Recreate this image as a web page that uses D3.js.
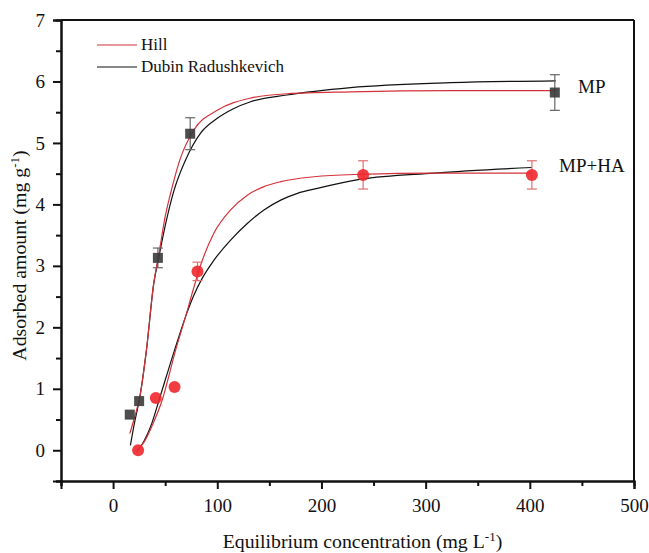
<!DOCTYPE html>
<html>
<head>
<meta charset="utf-8">
<script src="https://cdn.jsdelivr.net/npm/d3@7"></script>
<style>
  body { margin: 0; background: #fff; }
  svg text { font-family: "Liberation Serif", Tinos, "Times New Roman", "DejaVu Serif", "Noto Serif", serif; fill: #111; }
</style>
</head>
<body>
<div id="chart"></div>
<script>
// measured points (equilibrium concentration, adsorbed amount)
var mpX = [16, 25, 43, 74, 424];
var mpY = [0.58, 0.80, 3.13, 5.15, 5.82];
var mpErr = [0, 0, 0.16, 0.26, 0.29];

var haX = [24, 41, 59, 81, 240, 402];
var haY = [0.0, 0.85, 1.03, 2.91, 4.48, 4.48];
var haErr = [0, 0, 0, 0.15, 0.23, 0.23];

// fitted curves
var hillMP = [[16,0.27],[20,0.5],[26,0.9],[32,1.63],[39,2.71],[44,3.2],[50,3.8],[57,4.3],[64,4.72],[77.5,5.21],[100,5.53],[132,5.73],[167,5.80],[228,5.83],[324,5.85],[425,5.85]];
var drMP = [[16.6,0.08],[20,0.4],[26,0.9],[32,1.63],[39,2.71],[44,3.15],[50,3.65],[58,4.2],[69.5,4.72],[84,5.16],[100,5.40],[116,5.56],[132,5.67],[167,5.78],[228,5.90],[324,5.98],[425,6.01]];
var hillHA = [[23,0.0],[30,0.14],[38,0.42],[47,0.81],[60,1.63],[69.5,2.17],[77,2.62],[84,3.01],[96.7,3.53],[112.8,3.91],[128.8,4.15],[144.8,4.29],[160.9,4.37],[193,4.45],[238,4.49],[308,4.51],[402,4.51]];
var drHA = [[23,-0.02],[30,0.16],[37,0.43],[44,0.81],[59,1.63],[69.5,2.17],[77,2.5],[85.6,2.80],[96.7,3.09],[112.8,3.42],[128.8,3.69],[144.8,3.91],[160.9,4.07],[176.9,4.18],[196,4.26],[238,4.41],[308,4.51],[402,4.60]];

var xMajor = [0, 100, 200, 300, 400, 500];
var xMinor = [-50, 50, 150, 250, 350, 450];
var yMajor = [0, 1, 2, 3, 4, 5, 6, 7];
var yMinor = [-0.5, 0.5, 1.5, 2.5, 3.5, 4.5, 5.5, 6.5];

var width = 649, height = 553;
var margin = {left: 61, right: 15, top: 20, bottom: 72};

var svg = d3.select("#chart").append("svg")
    .attr("width", width)
    .attr("height", height);

var x = d3.scaleLinear().domain([-50, 500]).range([margin.left, width - margin.right]);
var y = d3.scaleLinear().domain([-0.5, 7]).range([height - margin.bottom, margin.top]);

var redCol = "#d4323a";
var blackCol = "#111";

// axes
svg.append("g")
    .attr("transform", "translate(0," + y(-0.5) + ")")
    .call(d3.axisBottom(x).tickValues(xMajor).tickSize(8).tickPadding(10).tickFormat(d3.format("d")));
svg.append("g")
    .attr("transform", "translate(0," + y(-0.5) + ")")
    .call(d3.axisBottom(x).tickValues(xMinor).tickSize(5).tickFormat(""));
svg.append("g")
    .attr("transform", "translate(" + x(-50) + ",0)")
    .call(d3.axisLeft(y).tickValues(yMajor).tickSize(8).tickPadding(8).tickFormat(d3.format("d")));
svg.append("g")
    .attr("transform", "translate(" + x(-50) + ",0)")
    .call(d3.axisLeft(y).tickValues(yMinor).tickSize(5).tickFormat(""));

svg.selectAll(".domain").attr("stroke", "#111").attr("stroke-width", 2);
svg.selectAll(".tick line").attr("stroke", "#111").attr("stroke-width", 2);
svg.selectAll(".tick text").style("font-size", "19px").attr("fill", "#111");

// frame top and right
svg.append("line")
    .attr("x1", x(-50)).attr("x2", x(500))
    .attr("y1", y(7)).attr("y2", y(7))
    .attr("stroke", "#111").attr("stroke-width", 2);
svg.append("line")
    .attr("x1", x(500)).attr("x2", x(500))
    .attr("y1", y(7)).attr("y2", y(-0.5))
    .attr("stroke", "#111").attr("stroke-width", 2);

// curves
var line = d3.line()
    .x(d => x(d[0]))
    .y(d => y(d[1]))
    .curve(d3.curveMonotoneX);

svg.append("path").datum(drMP).attr("d", line)
    .attr("fill", "none").attr("stroke", blackCol).attr("stroke-width", 1.2);
svg.append("path").datum(drHA).attr("d", line)
    .attr("fill", "none").attr("stroke", blackCol).attr("stroke-width", 1.2);
svg.append("path").datum(hillMP).attr("d", line)
    .attr("fill", "none").attr("stroke", redCol).attr("stroke-width", 1.2);
svg.append("path").datum(hillHA).attr("d", line)
    .attr("fill", "none").attr("stroke", redCol).attr("stroke-width", 1.2);

// error bars
function errBars(xs, ys, es, col) {
  var g = svg.append("g").attr("stroke", col).attr("stroke-width", 1.2);
  xs.forEach(function(v, i) {
    if (!es[i]) return;
    var cx = x(v);
    g.append("line").attr("x1", cx).attr("x2", cx)
      .attr("y1", y(ys[i] + es[i])).attr("y2", y(ys[i] - es[i]));
    g.append("line").attr("x1", cx - 5).attr("x2", cx + 5)
      .attr("y1", y(ys[i] + es[i])).attr("y2", y(ys[i] + es[i]));
    g.append("line").attr("x1", cx - 5).attr("x2", cx + 5)
      .attr("y1", y(ys[i] - es[i])).attr("y2", y(ys[i] - es[i]));
  });
}
errBars(mpX, mpY, mpErr, "#666");
errBars(haX, haY, haErr, "#e07070");

// markers
svg.append("g").selectAll("rect")
    .data(mpX)
    .join("rect")
    .attr("x", (d, i) => x(d) - 5)
    .attr("y", (d, i) => y(mpY[i]) - 5)
    .attr("width", 10)
    .attr("height", 10)
    .attr("fill", "#3a3a3a")
    .attr("opacity", 0.9);

svg.append("g").selectAll("circle")
    .data(haX)
    .join("circle")
    .attr("cx", d => x(d))
    .attr("cy", (d, i) => y(haY[i]))
    .attr("r", 6)
    .attr("fill", "#f0282c")
    .attr("opacity", 0.9);

// series labels
svg.append("text").attr("x", 578).attr("y", 93).style("font-size", "19px").text("MP");
svg.append("text").attr("x", 559).attr("y", 172).style("font-size", "19px").text("MP+HA");

// legend
var legend = [["Hill", redCol], ["Dubin Radushkevich", blackCol]];
legend.forEach(function(l, i) {
  var ly = 45 + i * 22;
  svg.append("line").attr("x1", 97).attr("x2", 137)
    .attr("y1", ly).attr("y2", ly)
    .attr("stroke", l[1]).attr("stroke-width", 1.2);
  svg.append("text").attr("x", 141).attr("y", ly + 5)
    .style("font-size", "17px").text(l[0]);
});

// axis titles
var xt = svg.append("text")
    .attr("x", (x(-50) + x(500)) / 2 + 15)
    .attr("y", 548)
    .attr("text-anchor", "middle")
    .style("font-size", "19.8px");
xt.append("tspan").text("Equilibrium concentration (mg L");
xt.append("tspan").attr("dy", -7).style("font-size", "13px").text("-1");
xt.append("tspan").attr("dy", 7).text(")");

var yt = svg.append("text")
    .attr("transform", "translate(26," + ((y(-0.5) + y(7)) / 2 + 5) + ") rotate(-90)")
    .attr("text-anchor", "middle")
    .style("font-size", "19.8px");
yt.append("tspan").text("Adsorbed amount (mg g");
yt.append("tspan").attr("dy", -7).style("font-size", "13px").text("-1");
yt.append("tspan").attr("dy", 7).text(")");
</script>
</body>
</html>
